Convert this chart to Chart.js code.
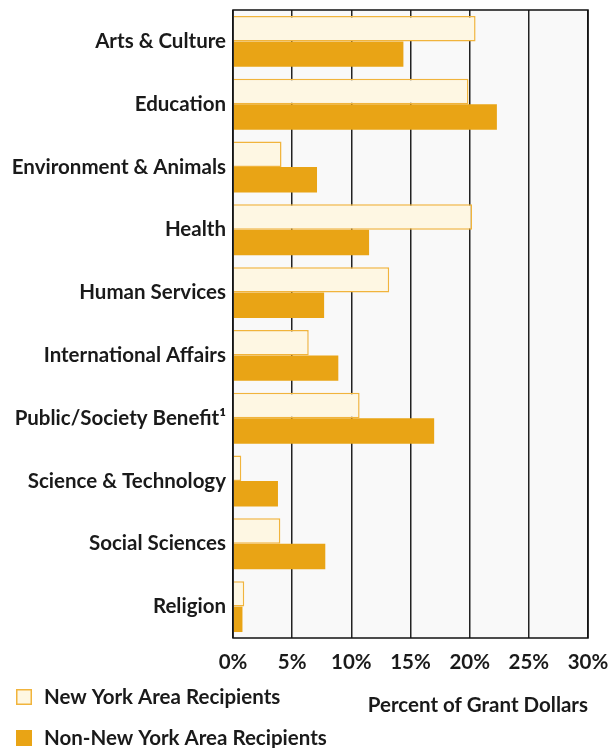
<!DOCTYPE html>
<html>
<head>
<meta charset="utf-8">
<script src="https://cdn.jsdelivr.net/npm/chart.js@4.4.0/dist/chart.umd.min.js"></script>
<style>
  html, body { margin: 0; padding: 0; background: #fff; }
  #wrap { width: 611px; height: 748px; position: relative; }
</style>
</head>
<body>
<div id="wrap"><canvas id="chart"></canvas></div>
<script>
// Datos del grafico
const categories = [
    'Arts & Culture',
    'Education',
    'Environment & Animals',
    'Health',
    'Human Services',
    'International Affairs',
    'Public/Society Benefit\u00B9',
    'Science & Technology',
    'Social Sciences',
    'Religion'
];

const nyValues = [20.5, 19.9, 4.1, 20.2, 13.2, 6.4, 10.7, 0.7, 4.0, 0.95];
const nonNyValues = [14.4, 22.3, 7.1, 11.5, 7.7, 8.9, 17.0, 3.8, 7.8, 0.8];

const tickValues = [0, 5, 10, 15, 20, 25, 30];

const seriesLabels = ['New York Area Recipients', 'Non-New York Area Recipients'];
const axisTitle = 'Percent of Grant Dollars';

const fontFamily = 'Lato, "Open Sans", sans-serif';
const fontSize = 20.5;
const textColor = '#1a1a1a';

// fondo gris del area de trazado
const plotBackground = {
    id: 'plotBackground',
    beforeDraw(chart) {
        const { ctx, chartArea } = chart;
        ctx.save();
        ctx.fillStyle = '#f9f9f9';
        ctx.fillRect(chartArea.left, chartArea.top, chartArea.right - chartArea.left, chartArea.bottom - chartArea.top);
        ctx.restore();
    },
    afterDatasetsDraw(chart) {
        const { ctx, chartArea } = chart;
        ctx.save();
        ctx.strokeStyle = '#111';
        ctx.lineWidth = 1.5;
        ctx.strokeRect(chartArea.left, chartArea.top, chartArea.right - chartArea.left, chartArea.bottom - chartArea.top);
        ctx.restore();
    }
};

// leyenda en dos filas abajo a la izquierda
const stackedLegend = {
    id: 'stackedLegend',
    afterDraw(chart) {
        const ctx = chart.ctx;
        ctx.save();
        ctx.font = 'bold ' + fontSize + 'px ' + fontFamily;
        ctx.textBaseline = 'middle';
        chart.data.datasets.forEach((ds, i) => {
            const y = 689 + i * 41;
            ctx.fillStyle = ds.backgroundColor;
            ctx.fillRect(16, y, 16, 16);
            if (ds.borderWidth) {
                ctx.strokeStyle = ds.borderColor;
                ctx.lineWidth = 1.5;
                ctx.strokeRect(16.75, y + 0.75, 14.5, 14.5);
            }
            ctx.fillStyle = textColor;
            ctx.fillText(ds.label, 44, y + 8);
        });
        ctx.restore();
    }
};

const ctx = document.getElementById('chart').getContext('2d');
const myChart = new Chart(ctx, {
    type: 'bar',
    data: {
        labels: categories,
        datasets: [{
            label: seriesLabels[0],
            data: nyValues,
            backgroundColor: '#fef7e3',
            borderColor: '#f1b43c',
            borderWidth: 1.5,
            borderSkipped: 'left',
            categoryPercentage: 0.81,
            barPercentage: 1.0
        }, {
            label: seriesLabels[1],
            data: nonNyValues,
            backgroundColor: '#e9a415',
            borderColor: '#f0b84a',
            borderWidth: 0,
            categoryPercentage: 0.81,
            barPercentage: 1.0
        }]
    },
    options: {
        indexAxis: 'y',
        responsive: true,
        maintainAspectRatio: false,
        animation: false,
        layout: {
            padding: { top: 10, right: 23, bottom: 0, left: 0 }
        },
        plugins: {
            legend: { display: false },
            tooltip: { enabled: false }
        },
        scales: {
            x: {
                min: 0,
                max: 30,
                afterBuildTicks(scale) {
                    scale.ticks = tickValues.map(v => ({ value: v }));
                },
                afterFit(scale) {
                    scale.height = 110;
                    scale.paddingLeft = 0;
                    scale.paddingRight = 0;
                },
                grid: {
                    color: '#222',
                    lineWidth: 1.5,
                    drawTicks: false
                },
                border: { display: false },
                ticks: {
                    padding: 12,
                    color: textColor,
                    font: { family: fontFamily, size: fontSize, weight: 'bold' },
                    callback: v => v + '%'
                },
                title: {
                    display: true,
                    text: axisTitle,
                    align: 'end',
                    color: textColor,
                    font: { family: fontFamily, size: fontSize, weight: 'bold' },
                    padding: { top: 10, bottom: 30 }
                }
            },
            y: {
                afterFit(scale) {
                    scale.width = 233;
                    scale.paddingTop = 0;
                    scale.paddingBottom = 0;
                },
                grid: { display: false, drawTicks: false },
                border: { display: false },
                ticks: {
                    padding: 7,
                    color: textColor,
                    font: { family: fontFamily, size: fontSize, weight: 'bold' }
                }
            }
        }
    },
    plugins: [plotBackground, stackedLegend]
});
</script>
</body>
</html>
